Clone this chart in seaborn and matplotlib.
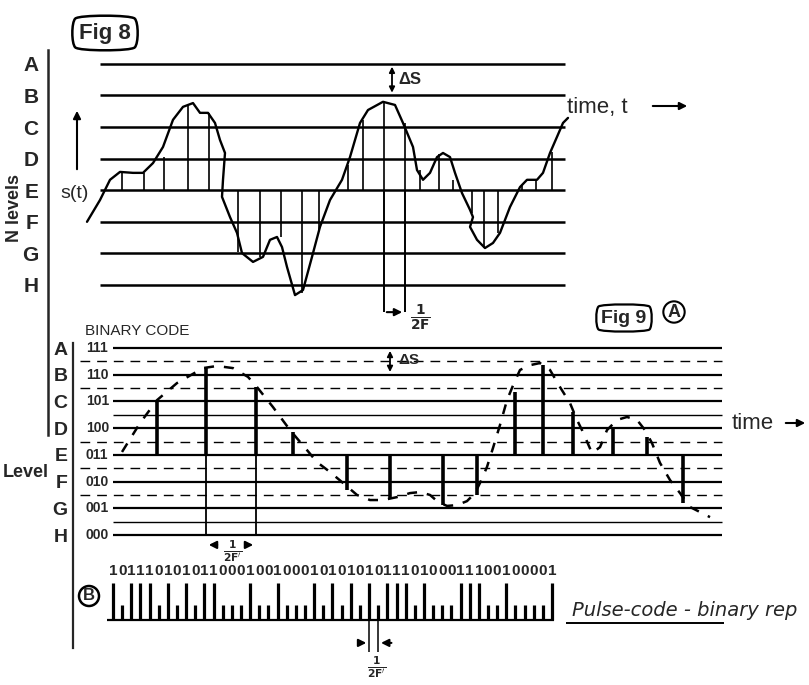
import numpy as np
import matplotlib
matplotlib.use("Agg")
import matplotlib.pyplot as plt
import seaborn as sns

sns.set_style("white")
plt.rcParams['font.family'] = ['Liberation Sans', 'DejaVu Sans']

# ---------------- data ----------------
# Fig 8 : analogue signal s(t), levels H..A = 0..7
levels8 = ["H", "G", "F", "E", "D", "C", "B", "A"]
wave_t = [87, 100, 110, 120, 133, 143, 153, 163, 173, 183,
          193, 200, 208, 215, 220, 225, 223, 222, 230, 237,
          242, 253, 263, 270, 277, 282, 287, 295, 303, 312,
          320, 330, 342, 350, 360, 368, 383, 395, 403, 413,
          417, 423, 430, 437, 443, 450, 455, 462, 470, 473,
          470, 477, 485, 493, 500, 510, 520, 527, 537, 543,
          550, 557, 563, 568]
wave_s = [2.00, 2.69, 3.33, 3.58, 3.55, 3.55, 3.86, 4.37, 5.23, 5.64,
          5.76, 5.45, 5.45, 5.13, 4.59, 4.18, 3.33, 2.79, 2.15, 1.65,
          1.01, 0.73, 0.89, 1.43, 1.52, 1.20, 0.57, -0.32, -0.16, 0.89,
          1.84, 2.69, 3.33, 4.05, 5.13, 5.54, 5.80, 5.70, 5.13, 4.37,
          3.64, 3.33, 3.55, 4.05, 4.18, 4.05, 3.55, 2.91, 2.38, 2.15,
          1.84, 1.43, 1.17, 1.33, 1.65, 2.47, 3.10, 3.33, 3.33, 3.55,
          4.18, 4.69, 5.13, 5.29]
# samples of s(t), drawn from level E
samp8_t = [122, 144, 164, 188, 209, 238, 260, 281, 302, 319, 348, 363,
           384, 405, 420, 439, 453, 472, 484, 498, 522, 536, 552]
samp8_s = [3.58, 3.55, 4.05, 5.73, 5.45, 1.05, 0.89, 1.52, -0.25, 1.74, 3.80, 5.23,
           5.80, 5.13, 3.64, 4.15, 3.33, 2.28, 1.17, 1.65, 3.17, 3.33, 4.21]

# Fig 9 (A) : quantised signal with binary codes
levels9 = ["H", "G", "F", "E", "D", "C", "B", "A"]
codes9 = ["000", "001", "010", "011", "100", "101", "110", "111"]
dashed_halves = [6.5, 5.5, 3.5, 2.5, 1.5]
solid_halves = [4.5, 0.5]
curve9_t = [122, 140, 157, 177, 203, 217, 233, 248, 257, 273,
            290, 307, 317, 330, 343, 357, 370, 383, 397, 410,
            420, 430, 438, 447, 457, 467, 475, 480, 487, 493,
            500, 507, 514, 520, 530, 540, 550, 560, 570, 577,
            582, 592, 600, 607, 617, 627, 637, 645, 652, 660,
            670, 680, 690, 700, 710]
curve9_s = [3.11, 4.19, 5.05, 5.69, 6.25, 6.33, 6.25, 5.92, 5.54, 4.79,
            3.93, 3.18, 2.73, 2.36, 1.95, 1.50, 1.31, 1.31, 1.42, 1.57,
            1.61, 1.50, 1.24, 1.09, 1.12, 1.27, 1.57, 1.95, 2.55, 3.26,
            4.12, 5.05, 5.69, 6.18, 6.36, 6.44, 6.18, 5.54, 4.94, 4.31,
            3.93, 3.07, 3.29, 3.93, 4.31, 4.42, 4.31, 3.93, 3.44, 2.70,
            2.06, 1.57, 1.05, 0.86, 0.67]
samp9_t = [157, 206, 256, 293, 347, 390, 443, 477, 515, 543, 573, 613, 647, 683]
samp9_s = [5.05, 6.25, 5.54, 3.86, 1.68, 1.39, 1.12, 1.50, 5.35, 6.36, 4.6, 4.0, 3.67, 1.2]

# Fig 9 (B) : pulse code train
bits = "1011101010110001001000101010101110100011100100001"

# ---------------- figure ----------------
W, H = 809, 685
fig = plt.figure(figsize=(W / 100, H / 100), dpi=100)


def px_axes(left, top, right, bottom):
    a = fig.add_axes([left / W, 1 - bottom / H, (right - left) / W, (bottom - top) / H])
    a.set_facecolor('none')
    return a


ax = px_axes(0, 0, W, H)
ax.set_xlim(0, W)
ax.set_ylim(H, 0)
ax.axis('off')

lw_k = dict(color='k')
arrow = dict(arrowstyle='-|>', color='k', lw=1.5, mutation_scale=11)
darrow = dict(arrowstyle='<|-|>', color='k', lw=1.3, mutation_scale=8)

# ---- Fig 8 ----
ax8 = px_axes(48, 50, W, 435)
ax8.set_xlim(48, W)
ax8.set_ylim(-4.75, 7.44)
ax8.hlines(range(8), 100, 565, lw=1.8, **lw_k)
sns.lineplot(x=wave_t, y=wave_s, ax=ax8, color='k', lw=1.7, sort=False, estimator=None)
ax8.vlines(samp8_t, 3, samp8_s, lw=1.2, **lw_k)
ax8.vlines([samp8_t[12], samp8_t[13]], 3, -0.86, lw=1.4, **lw_k)
ax8.annotate('', xy=(samp8_t[13], -0.86), xytext=(samp8_t[12], -0.86), arrowprops=arrow)
ax8.text(samp8_t[13] + 15, -1.05, r'$\mathbf{\frac{1}{2F}}$', fontsize=14, ha='center', va='center')
ax8.annotate('', xy=(392, 7), xytext=(392, 6), arrowprops=darrow)
ax8.text(398, 6.5, 'ΔS', fontsize=12, fontweight='bold', va='center')
ax8.set_yticks(range(8))
ax8.set_yticklabels(levels8, fontsize=15, fontweight='bold')
ax8.set_xticks([])
ax8.tick_params(axis='y', direction='in', length=5, width=1.6, pad=7)
sns.despine(ax=ax8, bottom=True)
ax8.spines['left'].set_linewidth(1.8)
ax8.set_xlabel('')
ax8.set_ylabel('')

ax.text(15, 208, 'N levels', rotation=90, fontsize=13, fontweight='bold', ha='center', va='center')
ax.text(75, 193, 's(t)', fontsize=14, ha='center', va='center')
ax.annotate('', xy=(77, 108), xytext=(77, 172), arrowprops=arrow)
ax.text(105, 33, 'Fig 8', fontsize=16, fontweight='bold', ha='center', va='center',
        bbox=dict(boxstyle='round4,pad=0.35', fc='white', ec='k', lw=1.8))
ax.text(567, 107, 'time, t', fontsize=16, va='center')
ax.annotate('', xy=(690, 106), xytext=(650, 106), arrowprops=arrow)

# ---- Fig 9 (A) ----
ax9 = px_axes(73, 343, W, 648)
ax9.set_xlim(73, W)
ax9.set_ylim(-4.23, 7.19)
ax9.hlines(range(8), 113, 722, lw=1.6, **lw_k)
ax9.hlines(solid_halves, 113, 722, lw=1.0, **lw_k)
ax9.hlines(dashed_halves, 80, 722, lw=1.0, linestyles=(0, (7, 5)), **lw_k)
sns.lineplot(x=curve9_t, y=curve9_s, ax=ax9, color='k', lw=1.8, linestyle=(0, (4, 4)),
             sort=False, estimator=None)
ax9.vlines(samp9_t, 3, samp9_s, lw=2.6, **lw_k)
ax9.vlines(samp9_t[1:3], 0, 3, lw=1.3, **lw_k)
ax9.annotate('', xy=(samp9_t[1], -0.37), xytext=(samp9_t[1] + 14, -0.37), arrowprops=arrow)
ax9.annotate('', xy=(samp9_t[2], -0.37), xytext=(samp9_t[2] - 12, -0.37), arrowprops=arrow)
ax9.text((samp9_t[1] + samp9_t[2]) / 2 + 2, -0.6, r"$\mathbf{\frac{1}{2F'}}$", fontsize=11,
         ha='center', va='center')
ax9.annotate('', xy=(390, 7), xytext=(390, 6), arrowprops=darrow)
ax9.text(398, 6.55, 'ΔS', fontsize=11, fontweight='bold', va='center')
for i, c in enumerate(codes9):
    ax9.text(86, i, c, fontsize=10, fontweight='bold', ha='left', va='center')
ax9.set_yticks(range(8))
ax9.set_yticklabels(levels9, fontsize=14, fontweight='bold')
ax9.set_xticks([])
ax9.tick_params(axis='y', direction='in', length=9, width=1.4, pad=4)
sns.despine(ax=ax9, bottom=True)
ax9.spines['left'].set_linewidth(1.6)
ax9.set_xlabel('')
ax9.set_ylabel('')

ax.text(85, 331, 'BINARY CODE', fontsize=11, ha='left', va='center')
ax.text(26, 472, 'Level', fontsize=13, fontweight='bold', ha='center', va='center')
ax.text(624, 318, 'Fig 9', fontsize=14, fontweight='bold', ha='center', va='center',
        bbox=dict(boxstyle='round4,pad=0.3', fc='white', ec='k', lw=1.6))
ax.text(674, 312, 'A', fontsize=13, fontweight='bold', ha='center', va='center',
        bbox=dict(boxstyle='circle,pad=0.12', fc='white', ec='k', lw=1.5))
ax.text(732, 423, 'time', fontsize=16, va='center')
ax.annotate('', xy=(808, 423), xytext=(783, 423), arrowprops=arrow)

# ---- Fig 9 (B) ----
axb = px_axes(0, 540, W, H)
axb.set_xlim(0, W)
axb.set_ylim(-1.81, 2.22)
axb.axis('off')
pulse_x = np.linspace(113, 552, len(bits))
pulse_h = [1.03 if b == '1' else 0.42 for b in bits]
axb.vlines(pulse_x, 0, pulse_h, lw=2.3, **lw_k)
axb.hlines(0, 107, 554, lw=1.6, **lw_k)
for x, b in zip(pulse_x, bits):
    axb.text(x, 1.36, b, fontsize=11, fontweight='bold', ha='center', va='center')
axb.vlines(pulse_x[28:30], 0, -0.9, lw=1.1, **lw_k)
axb.annotate('', xy=(pulse_x[28], -0.64), xytext=(pulse_x[28] - 13, -0.64), arrowprops=arrow)
axb.annotate('', xy=(pulse_x[29], -0.64), xytext=(pulse_x[29] + 16, -0.64), arrowprops=arrow)
axb.text(pulse_x[28] + 8, -1.3, r"$\mathbf{\frac{1}{2F'}}$", fontsize=11, ha='center', va='center')
axb.hlines(-0.08, 566, 724, lw=1.4, **lw_k)

ax.text(89, 596, 'B', fontsize=12, fontweight='bold', ha='center', va='center',
        bbox=dict(boxstyle='circle,pad=0.15', fc='white', ec='k', lw=1.8))
ax.text(572, 610, 'Pulse-code - binary rep', fontsize=14, style='italic', va='center',
        family='DejaVu Sans')

fig.savefig('out.png', dpi=100)
